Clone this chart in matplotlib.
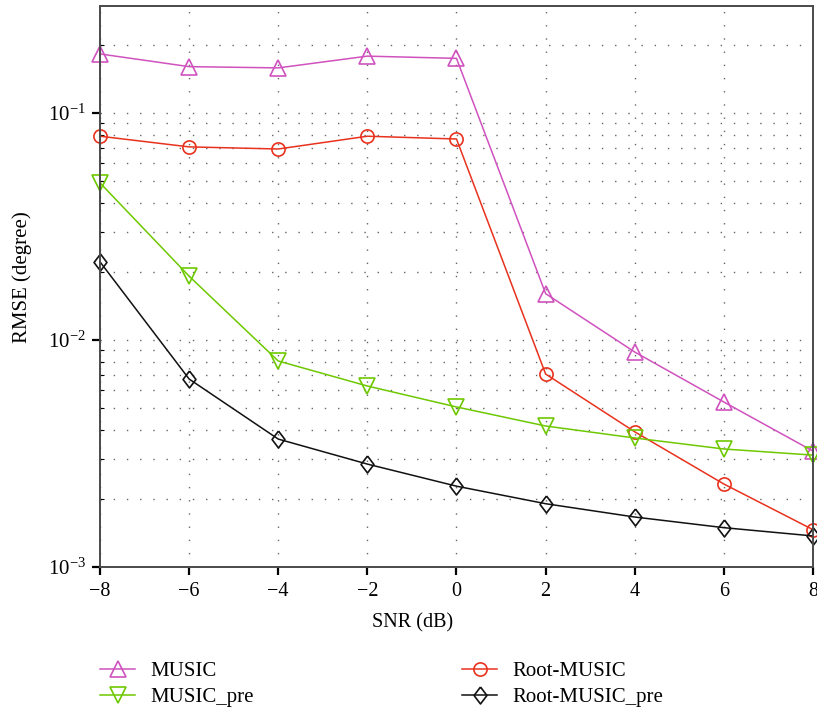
import matplotlib
matplotlib.use("Agg")
import matplotlib.pyplot as plt
from matplotlib.ticker import LogLocator, NullFormatter, FixedLocator

snr = [-8, -6, -4, -2, 0, 2, 4, 6, 8]
music = [0.182, 0.160, 0.158, 0.178, 0.174, 0.0160, 0.00885, 0.00533, 0.00324]
root_music = [0.079, 0.0709, 0.0694, 0.079, 0.0768, 0.00708, 0.00394, 0.00232, 0.00146]
music_pre = [0.0492, 0.0191, 0.00808, 0.00627, 0.00507, 0.00418, 0.0037, 0.00331, 0.00311]
root_music_pre = [0.0221, 0.00673, 0.00366, 0.00284, 0.00227, 0.0019, 0.00166, 0.00149, 0.00137]
xticks = [-8, -6, -4, -2, 0, 2, 4, 6, 8]
yticks = [1e-3, 1e-2, 1e-1]
ytick_labels = [r'$10^{-3}$', r'$10^{-2}$', r'$10^{-1}$']

plt.rcParams['font.family'] = ['Liberation Serif', 'DejaVu Serif']
plt.rcParams['mathtext.fontset'] = 'custom'
plt.rcParams['mathtext.rm'] = 'Liberation Serif'
plt.rcParams['mathtext.it'] = 'Liberation Serif:italic'
plt.rcParams['mathtext.default'] = 'regular'

fig = plt.figure(figsize=(8.17, 7.14), dpi=100)
ax = fig.add_axes([0.1224, 0.2059, 0.8727, 0.7857])

c_music = '#d052be'
c_root = '#e8321e'
c_pre = '#6ec800'
c_rpre = '#111111'

diamond = [(0, 1), (0.76, 0), (0, -1), (-0.76, 0), (0, 1)]
lw = 1.1
mew = 1.2
l1, = ax.plot(snr, music, color=c_music, marker='^', mfc='none', ms=12, mew=mew, lw=lw, label='MUSIC')
l3, = ax.plot(snr, root_music, color=c_root, marker='o', mfc='none', ms=9.5, mew=mew, lw=lw, label='Root-MUSIC')
l2, = ax.plot(snr, music_pre, color=c_pre, marker='v', mfc='none', ms=12, mew=mew, lw=lw, label='MUSIC_pre')
l4, = ax.plot(snr, root_music_pre, color=c_rpre, marker=diamond, mfc='none', ms=12.2, mew=mew, lw=lw, label='Root-MUSIC_pre')
for l in (l1, l2, l3, l4):
    l.set_clip_on(False)

ax.set_yscale('log')
ax.set_xlim(-8, 8)
ax.set_ylim(1e-3, 0.296)
ax.set_xticks(xticks)
ax.set_xticklabels([('\u2212%d' % -v if v < 0 else '%d' % v) for v in xticks])
ax.yaxis.set_major_locator(FixedLocator(yticks))
ax.set_yticklabels(ytick_labels)
ax.yaxis.set_minor_locator(LogLocator(base=10, subs=range(2, 10)))
ax.yaxis.set_minor_formatter(NullFormatter())

gls = (0, (1, 8.5))
ax.grid(True, which='major', axis='both', linestyle=gls, color='#666666', lw=1.0)
ax.grid(True, which='minor', axis='y', linestyle=gls, color='#666666', lw=1.0)

ax.tick_params(axis='x', which='major', direction='out', length=6, width=1.6, labelsize=14.5, pad=5, color='black')
ax.tick_params(axis='y', which='major', direction='out', length=6, width=1.6, labelsize=15, pad=4, color='black')
ax.tick_params(axis='y', which='minor', direction='in', length=3, width=0.8)
for s in ax.spines.values():
    s.set_linewidth(1.4)
    s.set_color('#4a4a4a')

xl = ax.set_xlabel('SNR (dB)', fontsize=14.5)
ax.xaxis.set_label_coords(0.439, -0.0998)
xl.set_va('center')
yl = ax.set_ylabel('RMSE (degree)', fontsize=15)
ax.yaxis.set_label_coords(-0.109, 0.517)
yl.set_va('center')

leg_kw = dict(loc='upper left', frameon=False, fontsize=15, handlelength=1.68,
              labelspacing=0.3, handletextpad=0.72, borderpad=0, borderaxespad=0)
leg1 = fig.legend(handles=[l1, l2], bbox_to_anchor=(100 / 817, 0.073), **leg_kw)
leg2 = fig.legend(handles=[l3, l4], bbox_to_anchor=(462 / 817, 0.073), **leg_kw)

fig.savefig('out.png', dpi=100)
